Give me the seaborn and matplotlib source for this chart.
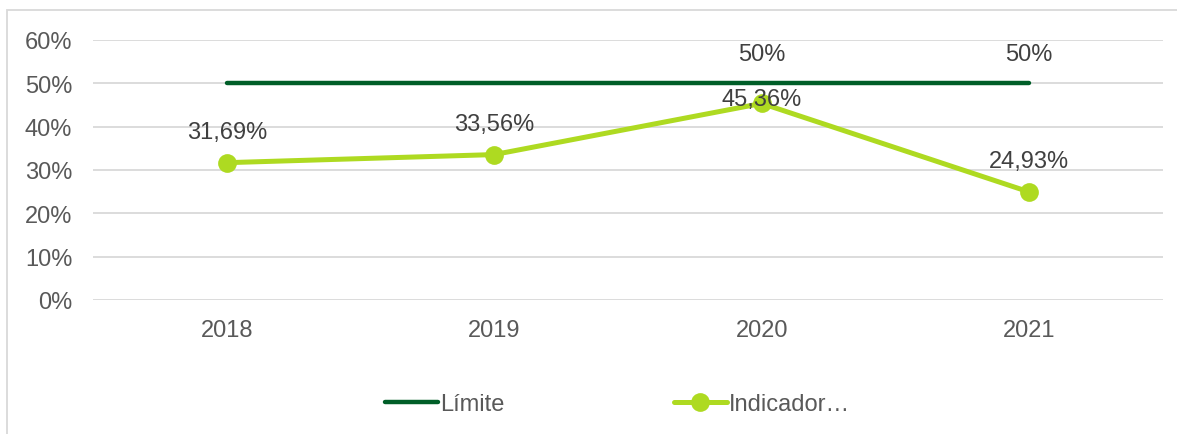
import matplotlib
matplotlib.use("agg")
import matplotlib.pyplot as plt
import matplotlib.patches as mpatches
import pandas as pd
import seaborn as sns

years = ["2018", "2019", "2020", "2021"]
limite = [0.50, 0.50, 0.50, 0.50]
indicador = [0.3169, 0.3356, 0.4536, 0.2493]
indicador_labels = ["31,69%", "33,56%", "45,36%", "24,93%"]
limite_labels = ["", "", "50%", "50%"]
series_names = ["Límite", "Indicador…"]

d_lim = pd.DataFrame({"year": years, "value": limite})
d_ind = pd.DataFrame({"year": years, "value": indicador})

sns.set_style("white")
plt.rcParams["font.family"] = ["Liberation Sans", "DejaVu Sans"]

FS = 17

fig = plt.figure(figsize=(11.77, 4.35), dpi=100)
ax = fig.add_axes([93 / 1177, 1 - 301 / 435, 1070 / 1177, 260 / 435])

c_lim = "#005E28"
c_ind = "#AEDA21"
sns.lineplot(data=d_lim, x="year", y="value", color=c_lim, linewidth=3.2,
             ax=ax, sort=False, solid_capstyle="round")
sns.lineplot(data=d_ind, x="year", y="value", color=c_ind, linewidth=3.6,
             marker="o", markersize=13.5, markeredgewidth=0, ax=ax, sort=False,
             solid_capstyle="round")

ax.set_xlim(-0.5, 3.5)
ax.set_ylim(0, 0.6)
ax.set_yticks([i / 10 for i in range(7)])
ax.set_yticklabels(["{}%".format(i * 10) for i in range(7)])
ax.grid(axis="y", color="#D9D9D9", linewidth=1.3)
ax.set_axisbelow(True)
for s in ax.spines.values():
    s.set_visible(False)
ax.tick_params(axis="both", length=0, labelsize=FS, colors="#595959")
ax.tick_params(axis="y", pad=15)
ax.tick_params(axis="x", pad=14)
ax.set_xlabel("")
ax.set_ylabel("")

# data labels
ind_offsets = [22, 22, 3, 22]
for i, (v, lab) in enumerate(zip(indicador, indicador_labels)):
    ax.annotate(lab, (i, v), xytext=(0, ind_offsets[i]), textcoords="offset points",
                ha="center", va="center", fontsize=FS, color="#404040")
for i, (v, lab) in enumerate(zip(limite, limite_labels)):
    if lab:
        ax.annotate(lab, (i, v), xytext=(0, 21), textcoords="offset points",
                    ha="center", va="center", fontsize=FS, color="#404040")

handles = [
    plt.Line2D([], [], color=c_lim, linewidth=3.2, solid_capstyle="round"),
    plt.Line2D([], [], color=c_ind, linewidth=3.6, marker="o",
               markersize=13.5, markeredgewidth=0, solid_capstyle="round"),
]
fig.legend(handles, series_names, loc="center left",
           bbox_to_anchor=(385 / 1177, 1 - 405 / 435), borderpad=0, borderaxespad=0,
           ncol=2, frameon=False, fontsize=FS, handlelength=2.25, handletextpad=0.1,
           columnspacing=7.15, labelcolor="#595959")

border = mpatches.Rectangle((7 / 1177, -0.05), 1.1, 1 - 11 / 435 + 0.05,
                            transform=fig.transFigure, fill=False,
                            edgecolor="#D9D9D9", linewidth=1.3)
fig.patches.append(border)

plt.savefig("out.png", dpi=100)
